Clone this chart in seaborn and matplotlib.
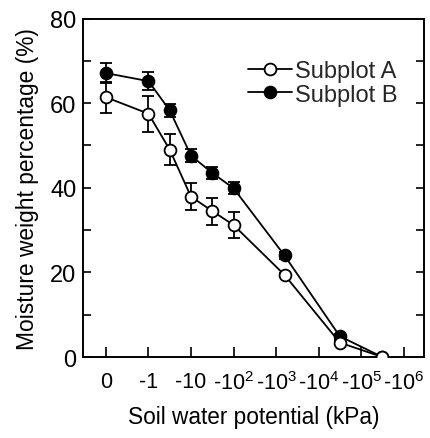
import matplotlib
matplotlib.use("Agg")
import matplotlib.pyplot as plt
import seaborn as sns
import pandas as pd
import numpy as np

# Data (x positions on the log-like categorical axis)
x_pos = [0, 1, 1.5, 2, 2.5, 3, 4.2, 5.5, 6.5]
a_vals = [61.4, 57.5, 49.0, 37.9, 34.5, 31.2, 19.4, 3.4, 0.0]
a_err = [3.7, 4.3, 3.7, 3.2, 3.2, 3.1, 0.5, 0.5, 0.0]
b_vals = [67.1, 65.2, 58.3, 47.6, 43.5, 39.9, 24.0, 4.9, 0.0]
b_err = [2.3, 2.2, 1.6, 1.6, 1.5, 1.4, 0.8, 0.6, 0.0]
tick_pos = [0, 1, 2, 3, 4, 5, 6, 7]
tick_labels = ["0", "-1", "-10", "-10$^{2}$", "-10$^{3}$", "-10$^{4}$", "-10$^{5}$", "-10$^{6}$"]
series_names = ["Subplot A", "Subplot B"]

sns.set_theme(style="ticks")
plt.rcParams["font.family"] = ["Liberation Sans", "DejaVu Sans"]
plt.rcParams["mathtext.fontset"] = "custom"
plt.rcParams["mathtext.rm"] = "Liberation Sans"
plt.rcParams["mathtext.it"] = "Liberation Sans:italic"
plt.rcParams["mathtext.bf"] = "Liberation Sans:bold"

df_a = pd.DataFrame({"x": x_pos, "y": a_vals})
df_b = pd.DataFrame({"x": x_pos, "y": b_vals})

fig = plt.figure(figsize=(4.3, 4.39), dpi=100)
ax = fig.add_axes([0.194, 0.1845, 0.792, 0.771])

# error bars (beneath markers)
ax.errorbar(x_pos, b_vals, yerr=b_err, fmt="none", ecolor="black", elinewidth=1.3,
            capsize=4, capthick=1.3, zorder=2)
ax.errorbar(x_pos, a_vals, yerr=a_err, fmt="none", ecolor="black", elinewidth=1.3,
            capsize=4, capthick=1.3, zorder=2)

sns.lineplot(data=df_b, x="x", y="y", ax=ax, color="black", marker="o",
             markersize=8.5, markerfacecolor="black", markeredgecolor="black",
             markeredgewidth=1.3, linewidth=1.3, label=series_names[1], zorder=3)
sns.lineplot(data=df_a, x="x", y="y", ax=ax, color="black", marker="o",
             markersize=8.5, markerfacecolor="white", markeredgecolor="black",
             markeredgewidth=1.3, linewidth=1.3, label=series_names[0], zorder=4)

ax.set_xlim(-0.53, 7.48)
ax.set_ylim(0, 80)
ax.set_xticks(tick_pos)
ax.set_xticklabels(tick_labels)
ax.set_yticks([0, 20, 40, 60, 80])
ax.set_yticks([10, 30, 50, 70], minor=True)

ax.tick_params(axis="x", direction="in", length=7, width=1.2, labelsize=15.5,
               pad=10, colors="black", top=False)
ax.tick_params(axis="y", which="both", direction="in", length=6, width=1.2,
               labelsize=17, pad=5, right=True, colors="black")
ax.tick_params(axis="y", which="minor", labelright=False)
for s in ax.spines.values():
    s.set_linewidth(1.4)
    s.set_color("black")
    s.set_visible(True)

ax.set_xlabel("Soil water potential (kPa)", fontsize=16.3, labelpad=8, color="black")
ax.set_ylabel("Moisture weight percentage (%)", fontsize=16.4, labelpad=8, color="black")

handles, labels = ax.get_legend_handles_labels()
order = [labels.index(n) for n in series_names]
ax.legend([handles[i] for i in order], [labels[i] for i in order],
          loc="upper right", bbox_to_anchor=(0.97, 0.925), frameon=False,
          fontsize=17, handlelength=1.9, handletextpad=0.1, labelspacing=0.05,
          borderaxespad=0.3)

fig.savefig("out.png", dpi=100)
